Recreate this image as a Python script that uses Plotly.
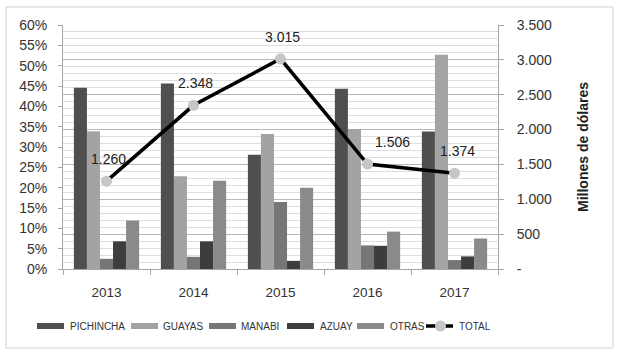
import plotly.graph_objects as go

years = ["2013", "2014", "2015", "2016", "2017"]
pichincha = [0.446, 0.456, 0.281, 0.443, 0.338]
guayas = [0.339, 0.228, 0.332, 0.344, 0.527]
manabi = [0.025, 0.030, 0.165, 0.058, 0.022]
azuay = [0.068, 0.068, 0.020, 0.057, 0.031]
otras = [0.119, 0.217, 0.200, 0.092, 0.075]
total = [1260, 2348, 3015, 1506, 1374]

series = [
    ("PICHINCHA", pichincha, "#4f4f4f"),
    ("GUAYAS", guayas, "#a3a3a3"),
    ("MANABI", manabi, "#767676"),
    ("AZUAY", azuay, "#3d3d3d"),
    ("OTRAS", otras, "#8a8a8a"),
]

y2_vals = list(range(0, 3501, 500))
y2_text = ["-" if v == 0 else f"{v:,}".replace(",", ".") for v in y2_vals]


def fmt(v):
    return f"{v:,}".replace(",", ".")


FONT = "Liberation Sans, Arial, sans-serif"
W, H = 619, 355
ML, MR, MT, MB = 63, 121, 25, 86
PW, PH = W - ML - MR, H - MT - MB


def px(x):
    return (x - ML) / PW


def py(y):
    return (H - MB - y) / PH


fig = go.Figure()
for name, vals, col in series:
    fig.add_trace(go.Bar(x=years, y=vals, name=name, marker=dict(color=col, line=dict(width=0)),
                         yaxis="y"))

fig.add_trace(go.Scatter(
    x=years, y=total, name="TOTAL", yaxis="y2", mode="lines+markers",
    line=dict(color="black", width=3.5),
    marker=dict(color="#c6c6c6", size=11, line=dict(width=0)),
))

annotations = []
xshifts = [2, 2, 2, 25, 3]
for i, (v, xs) in enumerate(zip(total, xshifts)):
    annotations.append(dict(x=i, y=v, xref="x", yref="y2", text=fmt(v), showarrow=False,
                            yshift=22, xshift=xs, font=dict(size=14, color="#222")))

# custom legend
shapes = [dict(type="rect", xref="paper", yref="paper", x0=px(6), x1=px(613),
               y0=py(348), y1=py(7), line=dict(color="#d0d0d0", width=1),
               fillcolor="rgba(0,0,0,0)", layer="below")]
leg_y = 326
leg_items = [
    (37, 68, "PICHINCHA", "#4f4f4f"),
    (131, 161, "GUAYAS", "#a3a3a3"),
    (209, 239, "MANABI", "#767676"),
    (287, 318, "AZUAY", "#3d3d3d"),
    (357, 388, "OTRAS", "#8a8a8a"),
]
for x0, tx, label, col in leg_items:
    shapes.append(dict(type="rect", xref="paper", yref="paper", x0=px(x0), x1=px(x0 + 27),
                       y0=py(leg_y + 3), y1=py(leg_y - 3), line=dict(width=0), fillcolor=col))
    annotations.append(dict(x=px(tx), y=py(leg_y), xref="paper", yref="paper", text=label,
                            showarrow=False, xanchor="left", yanchor="middle",
                            font=dict(size=10, color="#333")))
shapes.append(dict(type="line", xref="paper", yref="paper", x0=px(426), x1=px(453),
                   y0=py(leg_y), y1=py(leg_y), line=dict(color="black", width=3.5)))
shapes.append(dict(type="circle", xref="paper", yref="paper", x0=px(435), x1=px(446),
                   y0=py(leg_y + 5.5), y1=py(leg_y - 5.5), line=dict(width=0),
                   fillcolor="#c6c6c6"))
annotations.append(dict(x=px(457), y=py(leg_y), xref="paper", yref="paper", text="TOTAL",
                        showarrow=False, xanchor="left", yanchor="middle",
                        font=dict(size=10, color="#333")))

fig.update_layout(
    width=W, height=H,
    margin=dict(l=ML, r=MR, t=MT, b=MB, autoexpand=False),
    paper_bgcolor="white", plot_bgcolor="white",
    font=dict(family=FONT, size=13, color="#333"),
    barmode="group", bargap=0.25, bargroupgap=0,
    showlegend=False,
    xaxis=dict(type="category", range=[-0.5, len(years) - 0.5], showline=True,
               linecolor="#a6a6a6", linewidth=1,
               ticks="outside", tickson="boundaries", ticklen=5, tickcolor="#a6a6a6",
               ticklabelstandoff=11, tickfont=dict(size=13.5, color="#333")),
    yaxis=dict(range=[0, 0.6], dtick=0.05, tickformat=".0%", showgrid=False,
               showline=True, linecolor="#a6a6a6", ticks="outside", ticklen=4,
               tickcolor="#a6a6a6", zeroline=False, ticklabelstandoff=8,
               tickfont=dict(size=14, color="#333")),
    yaxis2=dict(range=[0, 3500], overlaying="y", side="right", tickvals=y2_vals,
                ticktext=y2_text, showgrid=True, gridcolor="#b8b8b8", gridwidth=1,
                minor=dict(dtick=100, showgrid=True, gridcolor="#dedede", gridwidth=1),
                showline=True, linecolor="#a6a6a6", ticks="outside", ticklen=5,
                tickcolor="#a6a6a6", zeroline=False, ticklabelstandoff=10,
                automargin=False, tickfont=dict(size=14, color="#333"),
                title=dict(text="<b>Millones de dólares</b>", font=dict(size=14, color="#222"),
                           standoff=27)),
    shapes=shapes,
    annotations=annotations,
)

fig.write_html("out.html", config={"displayModeBar": False},
               post_script="document.body.style.margin='0';")
